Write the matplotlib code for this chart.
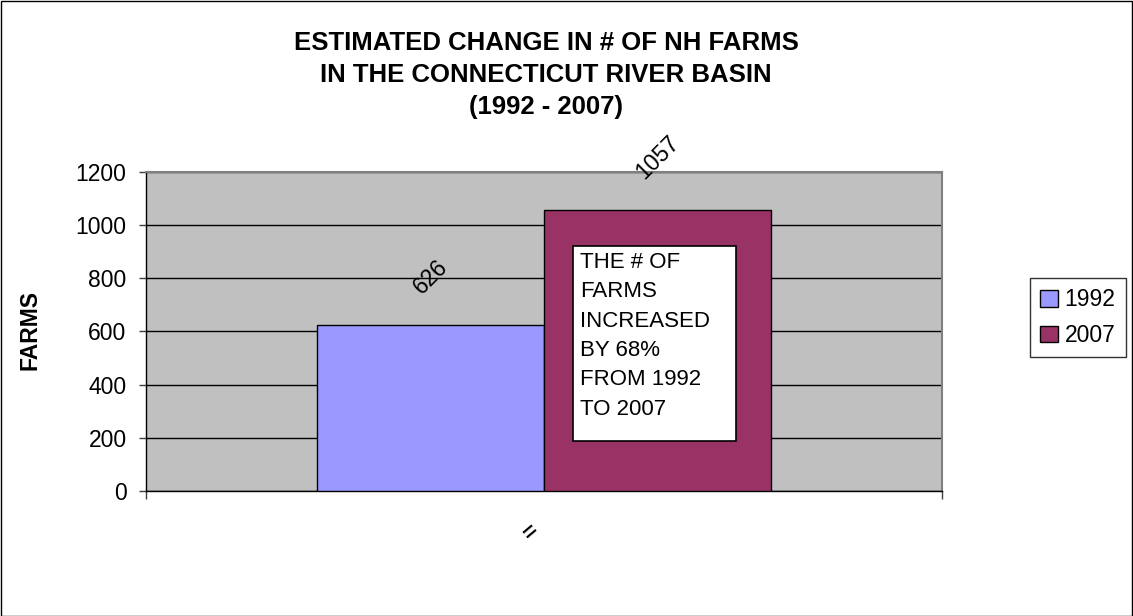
import matplotlib
matplotlib.use("Agg")
import matplotlib.pyplot as plt
from matplotlib.patches import Rectangle, Patch

plt.rcParams['font.family'] = ['Liberation Sans', 'DejaVu Sans']

# data
years = ['1992', '2007']
farms = [626, 1057]
bar_colors = ['#9999FF', '#993366']
category_label = '='
note_lines = ['THE # OF', 'FARMS', 'INCREASED', 'BY 68%', 'FROM 1992', 'TO 2007']
title_lines = ['ESTIMATED CHANGE IN # OF NH FARMS',
               'IN THE CONNECTICUT RIVER BASIN',
               '(1992 - 2007)']
yticks = [0, 200, 400, 600, 800, 1000, 1200]

W, H = 1133, 616
fig = plt.figure(figsize=(W / 100, H / 100), dpi=100)

def px(x, y):
    """pixel (from top-left) -> figure fraction"""
    return x / W, 1 - y / H

# plot area
left, right, top, bottom = 146, 942, 172, 491
ax = fig.add_axes([left / W, 1 - bottom / H, (right - left) / W, (bottom - top) / H])
ax.set_facecolor('#C0C0C0')

width = 0.2855
xs = [0.5 - width / 2, 0.5 + width / 2]
ax.bar(xs, farms, width=width, color=bar_colors, edgecolor='black', linewidth=1, zorder=3)

for x, v in zip(xs, farms):
    ax.annotate(str(v), xy=(x, v), xytext=(0, 19), textcoords='offset points',
                ha='center', va='bottom', rotation=45, fontsize=16.5, zorder=4)

ax.set_xlim(0, 1)
ax.set_ylim(0, 1200)
ax.set_yticks(yticks)
ax.set_yticklabels([str(t) for t in yticks], fontsize=16.5)
ax.set_xticks([0, 1])
ax.set_xticklabels(['', ''])
ax.tick_params(axis='y', direction='out', length=5, width=1, pad=9, color='#404040')
ax.tick_params(axis='x', direction='out', length=6, width=1, color='#404040')
ax.yaxis.grid(True, color='black', linewidth=1, zorder=1)
ax.set_axisbelow(True)

for s in ['left', 'bottom']:
    ax.spines[s].set_color('black')
    ax.spines[s].set_linewidth(1)
for s in ['top', 'right']:
    ax.spines[s].set_color('#808080')
    ax.spines[s].set_linewidth(1.5)

# category label
cx, cy = px(531, 532)
fig.text(cx, cy, category_label, rotation=40, ha='center', va='center', fontsize=17,
         fontweight='bold')

# note box
bx0, by0 = px(573, 441)
bx1, by1 = px(736, 246)
fig.patches.append(Rectangle((bx0, by0), bx1 - bx0, by1 - by0, transform=fig.transFigure,
                             facecolor='white', edgecolor='black', linewidth=1.2, zorder=5))
tx, ty = px(580, 252)
fig.text(tx, ty, '\n'.join(note_lines), ha='left', va='top', fontsize=16,
         linespacing=1.52, zorder=6)

# title
tcx, tcy = px(546, 75)
fig.text(tcx, tcy, '\n'.join(title_lines), ha='center', va='center', fontsize=18.5,
         fontweight='bold', linespacing=1.4)

# y label
lx, ly = px(30, 330)
fig.text(lx, ly, 'FARMS', rotation=90, ha='center', va='center', fontsize=16.5,
         fontweight='bold')

# legend
handles = [Patch(facecolor=c, edgecolor='black', linewidth=1) for c in bar_colors]
lgx, lgy = px(1030, 278)
leg = fig.legend(handles, years, loc='upper left', bbox_to_anchor=(lgx, lgy),
                 fontsize=16.5, frameon=True, fancybox=False, edgecolor='black',
                 handlelength=0.75, handleheight=0.75, handletextpad=0.3,
                 borderpad=0.45, labelspacing=0.55, borderaxespad=0)
leg.get_frame().set_linewidth(1)

# outer chart border
fig.patches.append(Rectangle((0.5 / W, 0.5 / H), 1 - 1.5 / W, 1 - 1.5 / H,
                             transform=fig.transFigure, fill=False,
                             edgecolor='black', linewidth=1))

fig.savefig('out.png', dpi=100)
